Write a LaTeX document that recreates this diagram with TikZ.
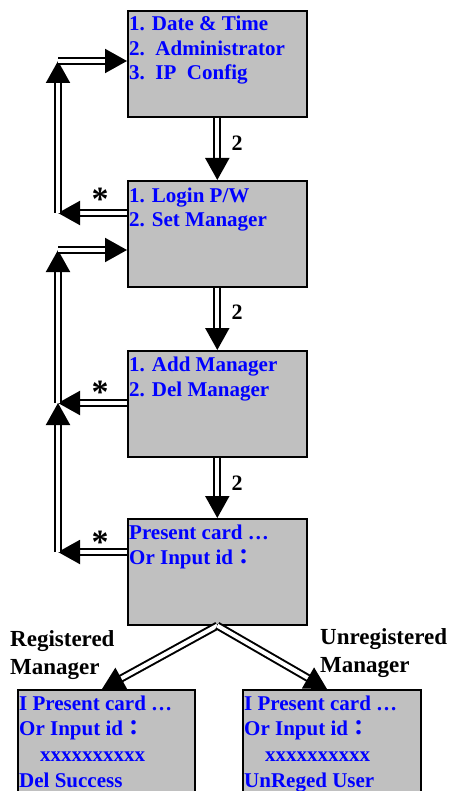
\documentclass[tikz,border=0pt]{standalone}
\usepackage{fontspec}
\setmainfont{Liberation Serif}
\newfontfamily\cjk{Noto Sans CJK TC}
\usetikzlibrary{arrows.meta}
\definecolor{boxgray}{RGB}{192,192,192}
\definecolor{txtblue}{RGB}{0,0,255}
\begin{document}
\begin{tikzpicture}[x=1pt,y=-1pt,
  box/.style={draw=black, line width=1.6pt, fill=boxgray, anchor=north west, inner sep=0pt},
  btxt/.style={anchor=base west, inner sep=0pt, text=txtblue, font=\fontsize{21}{24.5}\selectfont\bfseries, align=left},
  lbl/.style={inner sep=0pt, font=\fontsize{22}{24}\selectfont\bfseries},
  starlbl/.style={anchor=base, inner sep=0pt, font=\fontsize{34}{34}\selectfont\bfseries},
  side/.style={anchor=base west, inner sep=0pt, font=\fontsize{23}{27.5}\selectfont\bfseries, align=left},
  dbl/.style={draw=black, line width=2pt, double=white, double distance=4pt, -{Triangle[length=22pt,width=24pt]}}]
\useasboundingbox (0,0) rectangle (454,791);
\clip (0,0) rectangle (454,791);
% boxes
\node[box, minimum width=179pt, minimum height=106pt] (b1) at (127,10) {};
\node[box, minimum width=179pt, minimum height=106pt] (b2) at (127,180) {};
\node[box, minimum width=179pt, minimum height=106pt] (b3) at (127,350) {};
\node[box, minimum width=179pt, minimum height=106pt] (b4) at (127,518) {};
\node[box, minimum width=177pt, minimum height=130pt] (b5) at (17,689) {};
\node[box, minimum width=178pt, minimum height=130pt] (b6) at (242,689) {};
% box texts (anchored at the baseline of the last line)
\node[btxt] (t1) at (129,80) {1. Date \& Time\\2.\ \ Administrator\\3.\ \ IP\ \ Config};
\node[btxt] (t2) at (129,227) {1. Login P/W\\2. Set Manager};
\node[btxt] (t3) at (129,396) {1. Add Manager\\2. Del Manager};
\node[btxt] (t4) at (129,564) {Present card …\\Or Input id{\cjk ：}};
\node[btxt] (t5) at (19,787) {I Present card …\\Or Input id{\cjk ：}\\[2pt]\hspace*{21pt}xxxxxxxxxx\\[1pt]Del Success};
\node[btxt] (t6) at (244,787) {I Present card …\\Or Input id{\cjk ：}\\[2pt]\hspace*{21pt}xxxxxxxxxx\\[1pt]UnReged User};
% corner coordinates
\coordinate (c1) at (58,213);
\coordinate (c2) at (58,61);
\coordinate (c3) at (58,250);
\coordinate (c4) at (58,403);
\coordinate (c5) at (58,552);
\coordinate (tl) at (102,689);
\coordinate (tr) at (327,689);
% down arrows
\draw[dbl] (b1.south) -- (b2.north);
\draw[dbl] (b2.south) -- (b3.north);
\draw[dbl] (b3.south) -- (b4.north);
% loops
\draw[dbl] (b2.west |- c1) -- (c1);
\draw[dbl] (c1) -- (c2);
\draw[dbl] (c2) -- (b1.west |- c2);
\draw[dbl] (b3.west |- c4) -- (c4);
\draw[dbl] (b4.west |- c5) -- (c5);
\draw[dbl] (c5) -- (c4);
\draw[dbl] (c4) -- (c3);
\draw[dbl] (c3) -- (b2.west |- c3);
% split
\draw[dbl] (b4.south) -- (tl);
\draw[dbl] (b4.south) -- (tr);
% labels
\node[lbl] (n1) at (237,143) {2};
\node[lbl] (n2) at (237,312) {2};
\node[lbl] (n3) at (237,483) {2};
\node[starlbl] (s1) at (100,211) {*};
\node[starlbl] (s2) at (100,403) {*};
\node[starlbl] (s3) at (100,553) {*};
\node[side] (reg) at (10,674) {Registered\\Manager};
\node[side] (unreg) at (320,672) {Unregistered\\Manager};
\end{tikzpicture}
\end{document}
